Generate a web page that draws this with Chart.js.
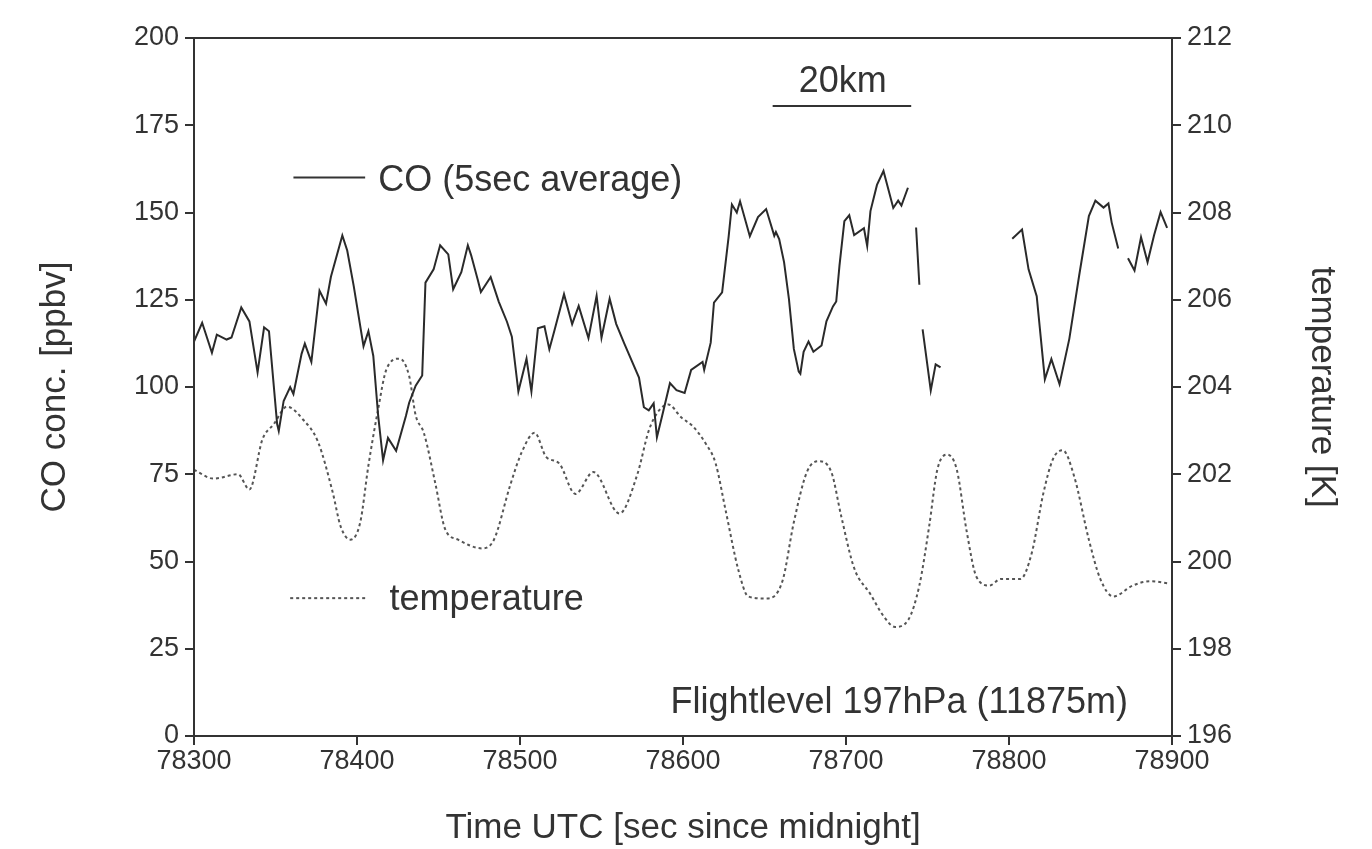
<!DOCTYPE html>
<html lang="en">
<head>
  <meta charset="UTF-8">
  <title>CO and temperature, flight level 197hPa</title>
  <script src="https://cdn.jsdelivr.net/npm/chart.js"></script>
  <style>
    body {
      margin: 0;
      background: #fff;
    }
    #wrap {
      width: 1372px;
      height: 849px;
    }
  </style>
</head>
<body>

  <div id="wrap"><canvas id="coChart"></canvas></div>

  <script>
    // CO, 5 s average (null = data gap)
    const coTime = [
      78300, 78305, 78311, 78314, 78320, 78323, 78329, 78334, 78339, 78343,
      78346, 78351, 78352, 78355, 78359, 78361, 78366, 78368, 78372, 78377,
      78381, 78384, 78391, 78394, 78398, 78404, 78407, 78410, 78413, 78416,
      78419, 78424, 78430, 78432, 78436, 78440, 78442, 78447, 78451, 78456,
      78459, 78464, 78468, 78470, 78474, 78476, 78482, 78487, 78492, 78495,
      78499, 78504, 78507, 78511, 78515, 78518, 78521, 78527, 78532, 78536,
      78542, 78547, 78550, 78555, 78559, 78564, 78573, 78576, 78579, 78582,
      78584, 78587, 78592, 78596, 78601, 78605, 78612, 78613, 78617, 78619,
      78624, 78628, 78630, 78633, 78635, 78641, 78646, 78651, 78656, 78657,
      78659, 78662, 78665, 78668, 78671, 78672, 78674, 78677, 78680, 78685,
      78688, 78692, 78694, 78696, 78699, 78702, 78705, 78711, 78713, 78715,
      78719, 78723, 78729, 78732, 78734, 78738, 78740, 78743, 78745, 78746,
      78747, 78752, 78755, 78758, 78780, 78802, 78808, 78812, 78817, 78822,
      78826, 78831, 78837, 78843, 78849, 78853, 78858, 78861, 78863, 78867,
      78870, 78873, 78877, 78881, 78885, 78889, 78893, 78897
    ];
    const coPpbv = [
      113, 118.4, 109.8, 115, 113.6, 114.2, 122.8, 118.8, 104.2, 117.1,
      116, 89.4, 87.4, 96, 100, 98, 109.5, 112.4, 107.2, 127.6,
      123.9, 131.6, 143.4, 139.1, 128.9, 111.7, 116, 108.9, 91.7, 79,
      85.4, 81.7, 91.7, 95.5, 100.4, 103.3, 129.9, 133.7, 140.6, 138,
      128, 132.9, 140.6, 137.8, 130.9, 127.2, 131.5, 124.4, 118.7, 114.4,
      98.7, 108.1, 98.7, 116.8, 117.4, 110.8, 116, 126.6, 118, 123.2,
      114, 126.1, 114.1, 125.3, 118.1, 112.4, 102.7, 94.2, 93.3, 95.3,
      85.6, 91.3, 101.1, 99.1, 98.3, 104.9, 107.2, 104.9, 112.7, 124.2,
      127.1, 143.1, 152.3, 150, 153.2, 143.2, 148.7, 151, 143.3, 144.4,
      142.4, 135.8, 125.2, 110.9, 104.4, 103.8, 110.1, 113, 110.1, 111.9,
      118.8, 123.1, 124.5, 134.8, 147.5, 149.2, 143.5, 145.5, 140.4, 150.4,
      157.9, 161.9, 151.3, 153.4, 152, 157.1, null, 145.7, 129.3, null,
      116.5, 99, 106.5, 105.6, null, 142.5, 145.1, 133.7, 126, 102.2,
      108, 100.8, 113.8, 131.8, 149, 153.4, 151.4, 152.6, 147.1, 139.7,
      null, 136.9, 133.4, 142.9, 135.8, 143.5, 150.1, 145.6
    ];

    // static temperature [K]
    const tempTime = [
      78300, 78312, 78327, 78334, 78342, 78349, 78357, 78367, 78376, 78385,
      78390, 78396, 78402, 78407, 78413, 78418, 78426, 78432, 78436, 78441,
      78448, 78454, 78462, 78477, 78484, 78494, 78501, 78509, 78516, 78524,
      78534, 78545, 78561, 78572, 78579, 78585, 78591, 78599, 78606, 78614,
      78620, 78626, 78634, 78640, 78651, 78661, 78668, 78676, 78683, 78691,
      78697, 78705, 78715, 78723, 78730, 78738, 78745, 78751, 78756, 78762,
      78768, 78774, 78780, 78788, 78795, 78807, 78814, 78821, 78827, 78833,
      78840, 78849, 78856, 78864, 78876, 78887, 78897
    ];
    const tempK = [
      202.1, 201.9, 202.0, 201.65, 202.8, 203.15, 203.55, 203.25, 202.75, 201.6,
      200.8, 200.5, 200.9, 202.2, 203.5, 204.4, 204.65, 204.25, 203.35, 202.95,
      201.8, 200.75, 200.5, 200.3, 200.5, 201.75, 202.5, 202.95, 202.4, 202.25,
      201.55, 202.05, 201.1, 202.0, 203.0, 203.45, 203.6, 203.3, 203.1, 202.7,
      202.25, 201.2, 199.8, 199.2, 199.15, 199.55, 200.9, 202.05, 202.3, 202.05,
      201.05, 199.85, 199.25, 198.75, 198.5, 198.65, 199.45, 200.8, 202.1, 202.45,
      202.1, 200.7, 199.65, 199.45, 199.6, 199.6, 200.2, 201.55, 202.35, 202.55,
      201.95, 200.5, 199.6, 199.2, 199.45, 199.55, 199.5
    ];

    const xTicks = [78300, 78400, 78500, 78600, 78700, 78800, 78900];
    const coTicks = [0, 25, 50, 75, 100, 125, 150, 175, 200];
    const tempTicks = [196, 198, 200, 202, 204, 206, 208, 210, 212];

    const scaleBarKm = { label: "20km", from: 78655, to: 78740 };
    const flightLevel = "Flightlevel 197hPa (11875m)";

    const ink = "#333";
    const family = "'Liberation Sans', Arial, sans-serif";

    const coPoints = coTime.map((t, i) => ({ x: t, y: coPpbv[i] }));
    const tempPoints = tempTime.map((t, i) => ({ x: t, y: tempK[i] }));

    // frame, in-plot legend, scale bar and flight level note
    const decorations = {
      id: "decorations",
      afterDatasetsDraw(chart) {
        const { ctx, chartArea: a, scales } = chart;
        const x = scales.x, y = scales.yCO;
        ctx.save();
        ctx.strokeStyle = ink;
        ctx.lineWidth = 2;
        ctx.strokeRect(a.left, a.top, a.right - a.left, a.bottom - a.top);

        ctx.font = "36px " + family;
        ctx.fillStyle = ink;
        ctx.textBaseline = "middle";

        // CO legend
        ctx.setLineDash([]);
        ctx.beginPath();
        ctx.moveTo(x.getPixelForValue(78361), y.getPixelForValue(160));
        ctx.lineTo(x.getPixelForValue(78405), y.getPixelForValue(160));
        ctx.stroke();
        ctx.textAlign = "left";
        ctx.fillText("CO (5sec average)", x.getPixelForValue(78413), y.getPixelForValue(159));

        // temperature legend
        ctx.strokeStyle = "#555";
        ctx.setLineDash([3, 3]);
        ctx.beginPath();
        ctx.moveTo(x.getPixelForValue(78359), y.getPixelForValue(39.5));
        ctx.lineTo(x.getPixelForValue(78405), y.getPixelForValue(39.5));
        ctx.stroke();
        ctx.fillText("temperature", x.getPixelForValue(78420), y.getPixelForValue(39));

        // 20 km scale bar
        ctx.setLineDash([]);
        ctx.strokeStyle = ink;
        ctx.beginPath();
        ctx.moveTo(x.getPixelForValue(scaleBarKm.from), y.getPixelForValue(180.5));
        ctx.lineTo(x.getPixelForValue(scaleBarKm.to), y.getPixelForValue(180.5));
        ctx.stroke();
        ctx.textAlign = "center";
        ctx.fillText(scaleBarKm.label, x.getPixelForValue(78698), y.getPixelForValue(187.5));

        ctx.textAlign = "right";
        ctx.fillText(flightLevel, x.getPixelForValue(78873), y.getPixelForValue(9.5));
        ctx.restore();
      }
    };

    const tickFont = { family: family, size: 27 };
    const titleFont = { family: family, size: 35 };
    const axisGrid = { display: true, drawOnChartArea: false, color: ink, lineWidth: 2, tickLength: 9 };

    const ctx = document.getElementById("coChart").getContext("2d");
    const chart = new Chart(ctx, {
      type: "line",
      data: {
        datasets: [
          {
            label: "CO (5sec average)",
            data: coPoints,
            yAxisID: "yCO",
            borderColor: "#2a2a2a",
            borderWidth: 2,
            pointRadius: 0,
            tension: 0,
            spanGaps: false
          },
          {
            label: "temperature",
            data: tempPoints,
            yAxisID: "yT",
            borderColor: "#555",
            borderWidth: 2,
            borderDash: [3, 3],
            pointRadius: 0,
            cubicInterpolationMode: "monotone"
          }
        ]
      },
      options: {
        responsive: true,
        maintainAspectRatio: false,
        animation: false,
        layout: { padding: { top: 38, left: 0, right: 0, bottom: 0 } },
        plugins: {
          legend: { display: false },
          tooltip: { enabled: false }
        },
        scales: {
          x: {
            type: "linear",
            min: 78300,
            max: 78900,
            afterBuildTicks: s => { s.ticks = xTicks.map(v => ({ value: v })); },
            afterFit: s => { s.height = 113; },
            ticks: {
              color: ink,
              font: tickFont,
              padding: 0,
              maxRotation: 0,
              callback: v => String(v)
            },
            grid: axisGrid,
            border: { display: false },
            title: { display: true, text: "Time UTC [sec since midnight]", color: ink, font: titleFont, padding: { bottom: 0 } }
          },
          yCO: {
            position: "left",
            min: 0,
            max: 200,
            afterBuildTicks: s => { s.ticks = coTicks.map(v => ({ value: v })); },
            afterFit: s => { s.width = 194; },
            ticks: { color: ink, font: tickFont, padding: 6 },
            grid: axisGrid,
            border: { display: false },
            title: { display: true, text: "CO conc. [ppbv]", color: ink, font: titleFont, padding: { top: 34 } }
          },
          yT: {
            position: "right",
            min: 196,
            max: 212,
            afterBuildTicks: s => { s.ticks = tempTicks.map(v => ({ value: v })); },
            afterFit: s => { s.width = 200; },
            ticks: { color: ink, font: tickFont, padding: 6 },
            grid: axisGrid,
            border: { display: false },
            title: { display: true, text: "temperature [K]", color: ink, font: titleFont, padding: { top: 29 } }
          }
        }
      },
      plugins: [decorations]
    });
  </script>

</body>
</html>
